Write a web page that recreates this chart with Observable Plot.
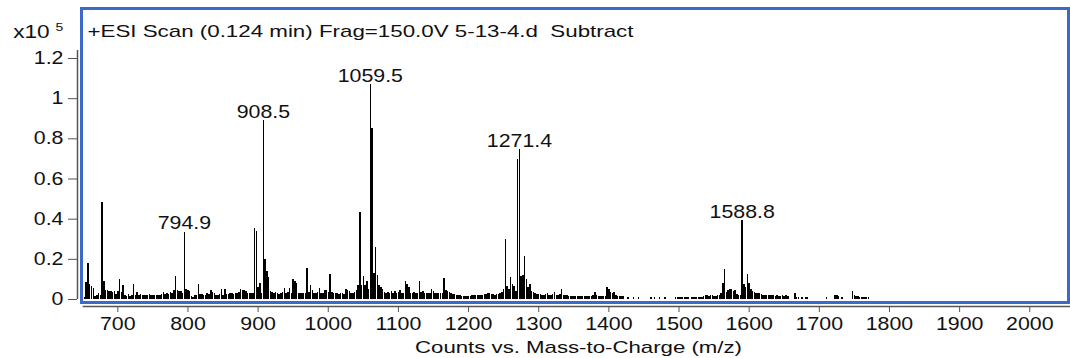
<!DOCTYPE html>
<html>
<head>
<meta charset="utf-8">
<script src="https://cdn.jsdelivr.net/npm/d3@7"></script>
<script src="https://cdn.jsdelivr.net/npm/@observablehq/plot@0.6"></script>
<style>
  html, body { margin: 0; padding: 0; background: #fff; }
  #chart { width: 1070px; height: 358px; }
</style>
</head>
<body>
<div id="chart"></div>
<script>
// ---- Data (intensity in units of 10^5 counts), m/z bins every 2.5 ----
const binStep = 2.5;
const seg600Start = 652.5;
const seg600 = [0.012, 0.085, 0.18, 0.075, 0.065, 0.055, 0.015, 0.02, 0.028, 0.02,
  0.484, 0.09, 0.045, 0.045, 0.038, 0.04, 0.035, 0.04, 0.025];
const seg700 = [0.04, 0.10, 0.035, 0.07, 0.018, 0.015, 0.025, 0.015, 0.018, 0.075,
  0.02, 0.035, 0.02, 0.025, 0.018, 0.02, 0.018, 0.02, 0.025, 0.02,
  0.018, 0.02, 0.02, 0.018, 0.02, 0.025, 0.035, 0.025, 0.03, 0.025,
  0.035, 0.03, 0.045, 0.114, 0.045, 0.04, 0.04, 0.03, 0.335, 0.05];
const seg800 = [0.045, 0.04, 0.015, 0.01, 0.02, 0.022, 0.075, 0.025, 0.025, 0.018,
  0.02, 0.028, 0.025, 0.045, 0.035, 0.03, 0.02, 0.018, 0.025, 0.05,
  0.022, 0.05, 0.025, 0.025, 0.028, 0.03, 0.025, 0.028, 0.03, 0.035,
  0.05, 0.045, 0.045, 0.04, 0.03, 0.03, 0.028, 0.03, 0.355, 0.34];
const seg900 = [0.06, 0.078, 0.03, 0.89, 0.197, 0.14, 0.11, 0.04, 0.035, 0.03,
  0.035, 0.03, 0.025, 0.03, 0.035, 0.056, 0.03, 0.035, 0.056, 0.03,
  0.098, 0.09, 0.08, 0.03, 0.028, 0.03, 0.028, 0.03, 0.156, 0.035,
  0.07, 0.045, 0.03, 0.028, 0.035, 0.056, 0.03, 0.028, 0.045, 0.045];
const seg1000 = [0.035, 0.123, 0.035, 0.03, 0.03, 0.028, 0.025, 0.028, 0.03, 0.025,
  0.05, 0.045, 0.04, 0.03, 0.028, 0.035, 0.045, 0.07, 0.434, 0.07,
  0.114, 0.07, 0.09, 0.05, 1.07, 0.85, 0.13, 0.26, 0.12, 0.07,
  0.06, 0.05, 0.035, 0.03, 0.035, 0.03, 0.038, 0.03, 0.04, 0.03];
const seg1100 = [0.035, 0.045, 0.03, 0.03, 0.09, 0.075, 0.06, 0.03, 0.03, 0.035,
  0.03, 0.03, 0.09, 0.035, 0.04, 0.03, 0.028, 0.03, 0.03, 0.05,
  0.04, 0.03, 0.03, 0.028, 0.03, 0.028, 0.106, 0.045, 0.04, 0.035,
  0.03, 0.025, 0.025, 0.02, 0.018, 0.018, 0.015, 0.015, 0.015, 0.015];
const seg1200 = [0.015, 0.015, 0.018, 0.018, 0.02, 0.02, 0.02, 0.022, 0.02, 0.025,
  0.025, 0.03, 0.03, 0.025, 0.025, 0.022, 0.025, 0.025, 0.03, 0.035,
  0.048, 0.297, 0.065, 0.05, 0.108, 0.075, 0.065, 0.04, 0.697, 0.745,
  0.115, 0.12, 0.214, 0.1, 0.06, 0.076, 0.04, 0.035, 0.03, 0.025];
const seg1300 = [0.025, 0.025, 0.02, 0.022, 0.025, 0.03, 0.02, 0.02, 0.025, 0.036,
  0.02, 0.02, 0.025, 0.05, 0.02, 0.018, 0.022, 0.015, 0.015, 0.015,
  0.015, 0.015, 0.015, 0.015, 0.015, 0.015, 0.015, 0.015, 0.015, 0.015,
  0.015, 0.02, 0.035, 0.018, 0.015, 0.015, 0.015, 0.015, 0.015, 0.058];
const seg1400 = [0.05, 0.035, 0.03, 0.035, 0.02, 0.015, 0.015, 0.015, 0.015, 0,
  0, 0.01, 0, 0, 0.01, 0, 0, 0.01, 0, 0,
  0, 0, 0, 0, 0.01, 0, 0.01, 0, 0, 0.01,
  0, 0, 0.01, 0, 0, 0, 0, 0, 0.008, 0.008];
const seg1500 = [0.008, 0.008, 0.008, 0.008, 0.008, 0.008, 0, 0.01, 0.01, 0.01,
  0.01, 0.01, 0.012, 0.012, 0.015, 0.02, 0.02, 0.015, 0.02, 0.02,
  0.015, 0.015, 0.018, 0.022, 0.03, 0.08, 0.147, 0.035, 0.045, 0.05,
  0.05, 0.04, 0.045, 0.025, 0.02, 0.02, 0.393, 0.075, 0.06, 0.123];
const seg1600 = [0.08, 0.05, 0.04, 0.035, 0.03, 0.03, 0.028, 0.025, 0.02, 0.02,
  0.02, 0.018, 0.02, 0.018, 0.02, 0.015, 0.018, 0.015, 0.015, 0.018,
  0.015, 0.02, 0.015, 0, 0, 0, 0.03, 0.01, 0.008, 0,
  0.008, 0, 0.008, 0.008, 0, 0, 0, 0, 0, 0];
const seg1700 = [0, 0, 0, 0, 0.01, 0, 0, 0, 0, 0.02,
  0.018, 0.015, 0, 0.01, 0, 0, 0, 0, 0, 0.04,
  0.018, 0.015, 0.015, 0.01, 0.012, 0.01, 0.01, 0.01, 0.01];

const segments = [
  [seg600Start, seg600], [700, seg700], [800, seg800], [900, seg900], [1000, seg1000],
  [1100, seg1100], [1200, seg1200], [1300, seg1300], [1400, seg1400], [1500, seg1500],
  [1600, seg1600], [1700, seg1700]
];

// labelled peaks
const peakLabels = ["794.9", "908.5", "1059.5", "1271.4", "1588.8"];
const peakMz = [795, 907.5, 1060, 1272.5, 1590];
const peakVal = [0.335, 0.89, 1.07, 0.745, 0.393];

// axes
const xTicks = [700, 800, 900, 1000, 1100, 1200, 1300, 1400, 1500, 1600, 1700, 1800, 1900, 2000];
const yTicks = [0, 0.2, 0.4, 0.6, 0.8, 1, 1.2];
const yTickLabels = ["0", "0.2", "0.4", "0.6", "0.8", "1", "1.2"];
const xDomain = [648.25, 2055.2];
const yDomain = [-0.0149, 1.449];
const yAxisTop = 1.24;
const xAxisStart = 650.7;

const titleText = "+ESI Scan (0.124 min) Frag=150.0V 5-13-4.d  Subtract";
const xLabelText = "Counts vs. Mass-to-Charge (m/z)";
const exponentBase = "x10";
const exponentPow = "5";

// ---- build tables ----
const bars = segments.flatMap(([s, vals]) => vals.map((v, i) => ({mz: s + i * binStep, v})))
  .filter(d => d.v > 0);
const peaks = peakLabels.map((label, i) => ({label, mz: peakMz[i], v: peakVal[i]}));

const axisGray = "#555";
const frameBlue = "#3a6bc8";

const chart = Plot.plot({
  width: 1070,
  height: 358,
  marginLeft: 81,
  marginRight: 2,
  marginTop: 8,
  marginBottom: 56,
  x: {domain: xDomain, axis: null},
  y: {domain: yDomain, axis: null},
  style: {fontFamily: "'Liberation Sans', Arial, sans-serif", fontSize: "17.5px", color: "#111", background: "white", overflow: "visible"},
  marks: [
    Plot.ruleX(bars, {x: "mz", y1: 0, y2: "v", stroke: "#000", strokeWidth: 1.5, shapeRendering: "crispEdges"}),
    Plot.text(peaks, {x: "mz", y: "v", text: "label", lineAnchor: "bottom", dy: -3, fontSize: 17.5, fill: "#111"}),
    // y axis
    Plot.ruleX([xDomain[0]], {y1: yAxisTop, y2: 0, dx: -4, stroke: axisGray, strokeWidth: 1.5}),
    Plot.axisY(yTicks, {anchor: "left", label: null, tickSize: 9, tickPadding: 5, dx: -4, stroke: axisGray, fontSize: 17.5,
      tickFormat: (d) => yTickLabels[yTicks.indexOf(d)]}),
    // x axis
    Plot.ruleY([yDomain[0]], {x1: xAxisStart, x2: 2062, dy: 4, stroke: axisGray, strokeWidth: 1.5}),
    Plot.axisX(xTicks, {anchor: "bottom", label: null, tickSize: 6, tickPadding: 5, dy: 4, stroke: axisGray, fontSize: 17.5,
      tickFormat: d => `${d}`}),
    // texts
    Plot.text([titleText], {frameAnchor: "top-left", dx: 6, dy: 16, lineAnchor: "top", textAnchor: "start", fontSize: 17, fill: "#111"}),
    Plot.text([exponentBase], {frameAnchor: "top-left", dx: -68.3, dy: 17, lineAnchor: "top", textAnchor: "start", fontSize: 17.5, fill: "#111"}),
    Plot.text([exponentPow], {frameAnchor: "top-left", dx: -26, dy: 14.7, lineAnchor: "top", textAnchor: "start", fontSize: 11.5, fill: "#111"}),
    Plot.text([xLabelText], {frameAnchor: "bottom", dx: 3.5, dy: 38, lineAnchor: "top", fontSize: 17, fill: "#111"}),
    Plot.frame({stroke: frameBlue, strokeWidth: 3})
  ]
});

document.getElementById("chart").appendChild(chart);

// horizontal stretch of glyphs to match the reference's wide lettering
const fitted = {[titleText]: 546, [xLabelText]: 327, [exponentBase]: 36.5};
chart.querySelectorAll("text").forEach(t => {
  const s = t.textContent;
  if (fitted[s] !== undefined) {
    t.setAttribute("textLength", fitted[s]);
    t.setAttribute("lengthAdjust", "spacingAndGlyphs");
  } else {
    const tr = t.getAttribute("transform");
    if (tr && tr.includes("translate")) {
      t.setAttribute("transform", tr + " scale(1.22,1)");
    } else {
      const w = t.getComputedTextLength();
      t.setAttribute("textLength", w * 1.22);
      t.setAttribute("lengthAdjust", "spacingAndGlyphs");
    }
  }
});
</script>
</body>
</html>
